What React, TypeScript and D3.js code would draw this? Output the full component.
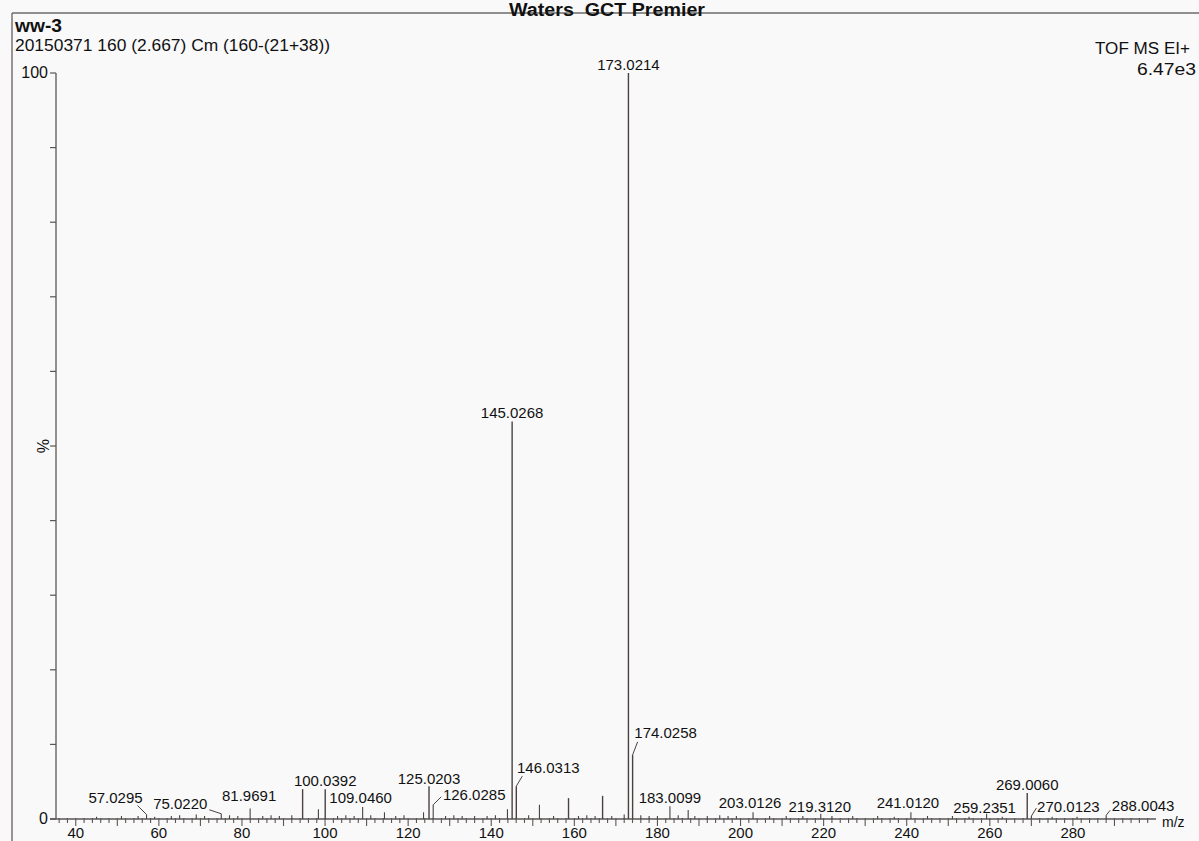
import * as d3 from "d3"

// spectrum: m/z and relative intensity (%)
const peakMz = [
  45.0, 51.0, 55.0, 57.0295, 59.0, 63.0, 65.0, 69.0, 71.0, 75.022, 77.0, 79.0, 81.9691, 85.0, 87.0,
  89.0, 92.0, 94.6, 98.4, 100.0392, 103.0, 105.0, 107.0, 109.046, 111.0, 114.3, 117.0, 119.0, 123.7,
  125.0203, 126.0285, 129.0, 131.0, 133.0, 136.0, 139.0, 141.0, 143.9, 145.0268, 146.0313, 149.0,
  151.6, 155.0, 158.6, 161.0, 163.0, 165.0, 166.8, 169.0, 172.0, 173.0214, 174.0258, 176.0, 178.0,
  180.0, 183.0099, 185.0, 187.4, 189.0, 192.0, 195.0, 197.0, 199.0, 203.0126, 207.0, 211.0, 215.0,
  219.312, 222.0, 227.0, 233.0, 237.0, 241.012, 245.0, 251.0, 255.0, 259.2351, 263.0, 269.006,
  270.0123, 275.0, 281.0, 288.0043,
]
const peakIntensity = [
  0.3, 0.4, 0.4, 0.6, 0.3, 0.4, 0.5, 0.6, 0.4, 0.7, 0.5, 0.4, 1.4, 0.4, 0.5,
  0.4, 0.5, 4.0, 1.3, 4.0, 0.4, 0.5, 0.4, 1.6, 0.5, 0.9, 0.4, 0.5, 0.9,
  4.4, 1.9, 0.4, 0.5, 0.4, 0.4, 0.4, 0.5, 1.3, 53.3, 4.4, 0.5,
  1.9, 0.4, 2.8, 0.4, 0.5, 0.4, 3.1, 0.4, 0.6, 100, 8.6, 0.5, 0.4,
  0.4, 1.7, 0.5, 1.2, 0.4, 0.4, 0.5, 0.4, 0.4, 0.9, 0.4, 0.4, 0.4,
  0.7, 0.4, 0.4, 0.4, 0.3, 0.9, 0.4, 0.4, 0.3, 0.7, 0.3, 3.5,
  0.4, 0.3, 0.3, 0.5,
]

const labelledMz = [
  "57.0295", "75.0220", "81.9691", "100.0392", "109.0460", "125.0203", "126.0285", "145.0268",
  "146.0313", "173.0214", "174.0258", "183.0099", "203.0126", "219.3120", "241.0120", "259.2351",
  "269.0060", "270.0123", "288.0043",
]

const xTickLabels = [40, 60, 80, 100, 120, 140, 160, 180, 200, 220, 240, 260, 280]
const yTickLabels = [0, 100]

const titleText = "Waters  GCT Premier"
const sampleText = "ww-3"
const scanText = "20150371 160 (2.667) Cm (160-(21+38))"
const modeText = "TOF MS EI+"
const scaleText = "6.47e3"

// label placement: [dx, dy, leader dx, leader dy] relative to the peak top
const labelLayout: Record<string, number[]> = {
  "57.0295": [-31, -12, -9, -9],
  "75.0220": [-41, -5, -12, -4],
  "81.9691": [-1, -8],
  "100.0392": [0, -3],
  "109.0460": [-2, -4],
  "125.0203": [0, -2],
  "126.0285": [41, -5, 8, -8],
  "145.0268": [0, -3],
  "146.0313": [32, -13, 6, -10],
  "173.0214": [0, -3],
  "174.0258": [33, -17, 5, -13],
  "183.0099": [0, -3],
  "203.0126": [-3, -4],
  "219.3120": [-1, -2],
  "241.0120": [-3, -4],
  "259.2351": [-2, -1],
  "269.0060": [0, -3],
  "270.0123": [37, -4, 5, -8],
  "288.0043": [37, -4, 4, -5],
}

export default function App() {
  const W = 1199
  const H = 841
  const x = d3.scaleLinear().domain([35, 300]).range([55, 1156])
  const y = d3.scaleLinear().domain([0, 100]).range([819, 73])

  const peaks = peakMz.map((mz, i) => ({ mz, v: peakIntensity[i] }))
  const ink = "#4a4242"
  const axisInk = "#5a5656"
  const font = "'Liberation Sans', Arial, sans-serif"

  const minor = d3.range(36, 300, 2)
  const yMinor = d3.range(0, 101, 10)

  return (
    <svg width={W} height={H} style={{ position: "absolute", left: 0, top: 0, background: "#f9f9fa" }} fontFamily={font}>
      {/* frame */}
      <line x1={12} y1={13} x2={W} y2={13} stroke="#6b6b6b" strokeWidth={1.5} />
      <line x1={12} y1={13} x2={12} y2={H} stroke="#7a7070" strokeWidth={1.5} />

      <text x={607} y={16} textAnchor="middle" fontWeight="bold" fontSize={18} textLength={196} lengthAdjust="spacingAndGlyphs" fill="#111" style={{ whiteSpace: "pre" }}>{titleText}</text>
      <text x={15} y={32} fontWeight="bold" fontSize={18} textLength={47} lengthAdjust="spacingAndGlyphs" fill="#111">{sampleText}</text>
      <text x={15} y={51} fontSize={16} textLength={315} lengthAdjust="spacingAndGlyphs" fill="#111">{scanText}</text>
      <text x={1190} y={54} textAnchor="end" fontSize={16} textLength={95} lengthAdjust="spacingAndGlyphs" fill="#111">{modeText}</text>
      <text x={1196} y={75} textAnchor="end" fontSize={16} textLength={59} lengthAdjust="spacingAndGlyphs" fill="#111">{scaleText}</text>

      {/* y axis */}
      <line x1={56} y1={y(100)} x2={56} y2={y(0)} stroke={axisInk} strokeWidth={1.3} />
      {yMinor.map(t => (
        <line key={t} x1={50} x2={56} y1={y(t)} y2={y(t)} stroke={axisInk} strokeWidth={1.2} />
      ))}
      {yTickLabels.map(t => (
        <text key={t} x={48} y={y(t) + 5} textAnchor="end" fontSize={16} fill="#111">{t}</text>
      ))}
      <text x={43} y={y(50)} fontSize={16} fill="#111" textAnchor="middle" dominantBaseline="central" transform={`rotate(-90 43 ${y(50)})`}>%</text>

      {/* x axis */}
      <line x1={50} x2={x(300)} y1={y(0)} y2={y(0)} stroke={axisInk} strokeWidth={1.3} />
      {minor.map(t => (
        <line key={t} x1={x(t)} x2={x(t)} y1={y(0) - 1} y2={y(0) + (t % 10 === 0 ? 7 : 4)} stroke={axisInk} strokeWidth={1.1} />
      ))}
      {xTickLabels.map(t => (
        <text key={t} x={x(t)} y={838} textAnchor="middle" fontSize={15} fill="#111">{t}</text>
      ))}
      <text x={1162} y={827} fontSize={14} fill="#111">m/z</text>

      {/* peaks */}
      {peaks.map(p => (
        <line key={p.mz} x1={x(p.mz)} x2={x(p.mz)} y1={y(0)} y2={y(p.v)} stroke={ink} strokeWidth={p.v > 2 ? 1.4 : 1.1} />
      ))}

      {/* peak labels */}
      {labelledMz.map(lbl => {
        const mz = +lbl
        const p = peaks.find(q => Math.abs(q.mz - mz) < 0.001)!
        const px = x(p.mz)
        const py = y(p.v)
        const lay = labelLayout[lbl]
        return (
          <g key={lbl}>
            {lay.length === 4 && (
              <line x1={px} y1={py} x2={px + lay[2]} y2={py + lay[3]} stroke={ink} strokeWidth={1} />
            )}
            <text x={px + lay[0]} y={py + lay[1]} textAnchor="middle" fontSize={15} fill="#111">{lbl}</text>
          </g>
        )
      })}
    </svg>
  )
}
